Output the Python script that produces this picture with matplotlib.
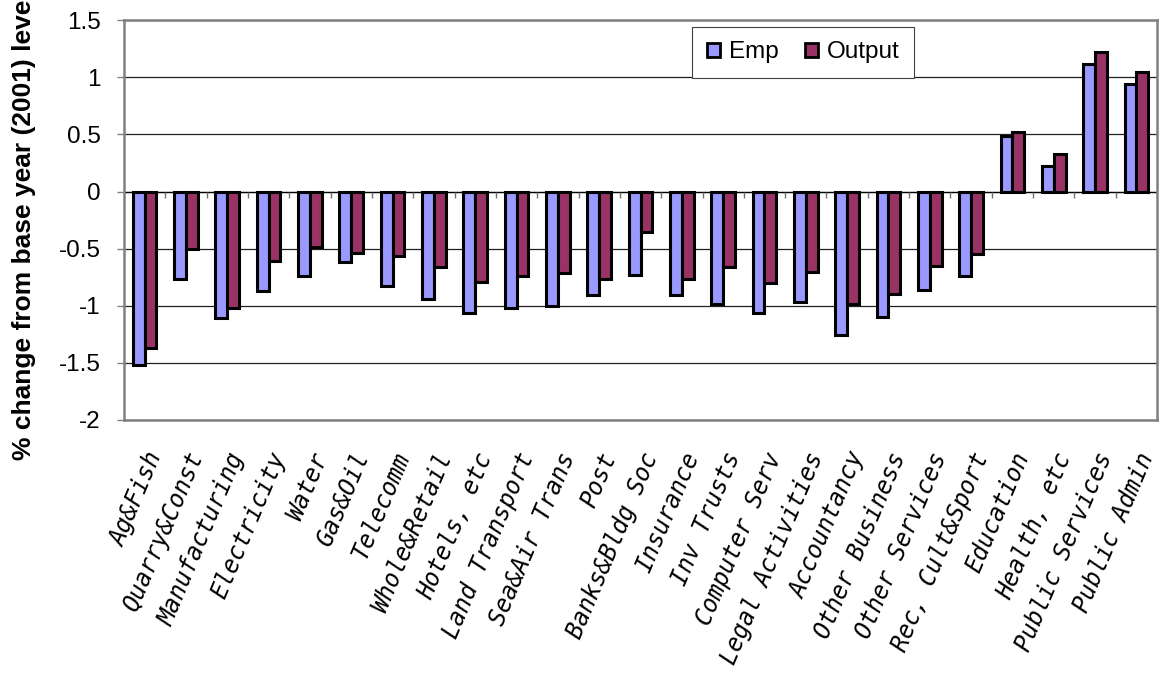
import matplotlib
matplotlib.use('Agg')
import matplotlib.pyplot as plt
import numpy as np
from matplotlib.patches import Patch
from matplotlib.ticker import FormatStrFormatter

# sector names and % change from 2001 level
sectors = ['Ag&Fish', 'Quarry&Const', 'Manufacturing', 'Electricity', 'Water',
           'Gas&Oil', 'Telecomm', 'Whole&Retail', 'Hotels, etc', 'Land Transport',
           'Sea&Air Trans', 'Post', 'Banks&Bldg Soc', 'Insurance', 'Inv Trusts',
           'Computer Serv', 'Legal Activities', 'Accountancy', 'Other Business',
           'Other Services', 'Rec, Cult&Sport', 'Education', 'Health, etc',
           'Public Services', 'Public Admin']
emp = [-1.52, -0.77, -1.11, -0.87, -0.74, -0.62, -0.83, -0.94, -1.07, -1.02,
       -1.00, -0.91, -0.73, -0.91, -0.985, -1.07, -0.97, -1.26, -1.10, -0.865,
       -0.745, 0.49, 0.22, 1.12, 0.945]
output = [-1.375, -0.50, -1.02, -0.61, -0.49, -0.54, -0.57, -0.665, -0.79, -0.74,
          -0.715, -0.77, -0.355, -0.77, -0.665, -0.80, -0.705, -0.99, -0.90, -0.655,
          -0.55, 0.52, 0.33, 1.225, 1.045]
yticks = [-2, -1.5, -1, -0.5, 0, 0.5, 1, 1.5]

plt.rcParams['font.family'] = ['Liberation Sans', 'DejaVu Sans']
plt.rcParams['axes.unicode_minus'] = False

fig = plt.figure(figsize=(11.61, 6.76), dpi=100)
ax = fig.add_axes([0.1068, 0.3794, 0.8898, 0.5903])

x = np.arange(len(sectors))
w = 0.286
ax.bar(x - w / 2, emp, w, color='#9999FF', edgecolor='black', linewidth=2.2, label='Emp', zorder=3)
ax.bar(x + w / 2, output, w, color='#993366', edgecolor='black', linewidth=2.2, label='Output', zorder=3)

ax.set_xlim(-0.5, len(sectors) - 0.5)
ax.set_ylim(yticks[0], yticks[-1])
ax.set_yticks(yticks)
ax.yaxis.set_major_formatter(FormatStrFormatter('%g'))
ax.yaxis.grid(True, color='#202020', linewidth=0.9)
ax.set_axisbelow(True)

# zero line with category tick marks hanging below it
ax.axhline(0, color='black', linewidth=0.9, zorder=2)
edges = np.arange(len(sectors) + 1) - 0.5
ax.vlines(edges, -0.06, 0, color='#707070', linewidth=1.0, zorder=2)

for s in ax.spines.values():
    s.set_color('#808080')
    s.set_linewidth(1.8)

ax.tick_params(axis='y', length=5, width=1, color='#808080', pad=12, labelsize=17.5)
ax.set_xticks(x)
ax.set_xticklabels(sectors, rotation=67, ha='right', va='top', rotation_mode='anchor',
                   fontsize=17, family='DejaVu Sans Mono', style='oblique')
ax.tick_params(axis='x', length=0, pad=21)

ax.set_ylabel('% change from base year (2001) level', fontsize=19, fontweight='bold')
ax.yaxis.set_label_coords(-0.085, 0.485)

handles = [Patch(facecolor='#9999FF', edgecolor='black', linewidth=2),
           Patch(facecolor='#993366', edgecolor='black', linewidth=2)]
leg = ax.legend(handles, ['Emp', 'Output'], ncol=2, loc='upper left',
                bbox_to_anchor=(0.55, 0.984), borderaxespad=0, fontsize=17.5,
                handlelength=0.55, handleheight=0.55, handletextpad=0.35,
                columnspacing=1.1, borderpad=0.6, fancybox=False, framealpha=1)
leg.get_frame().set_edgecolor('#404040')
leg.get_frame().set_linewidth(0.8)

fig.savefig('out.png', dpi=100)
